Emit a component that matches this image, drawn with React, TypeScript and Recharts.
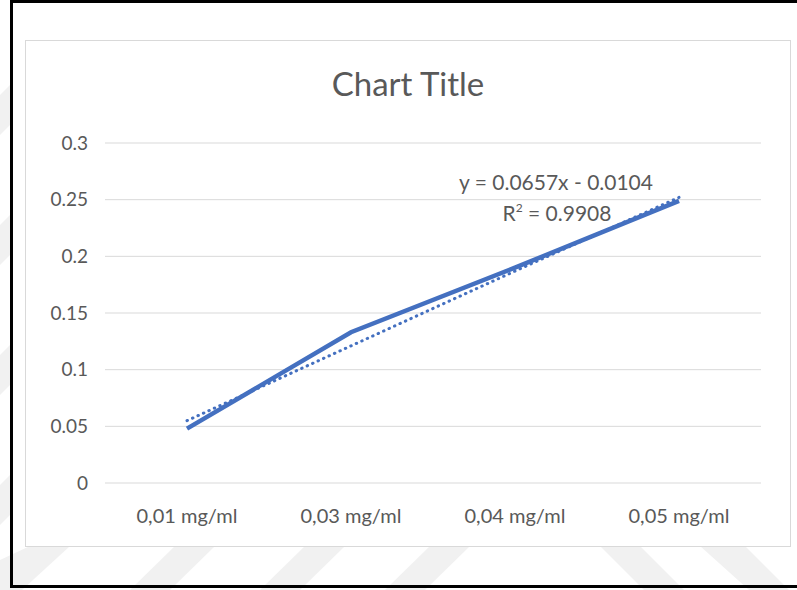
import { LineChart, Line, XAxis, YAxis, CartesianGrid } from 'recharts';

const categories = ['0,01 mg/ml', '0,03 mg/ml', '0,04 mg/ml', '0,05 mg/ml'];
const absorbance = [0.048, 0.133, 0.19, 0.249];
const trendValues = [0.055, 0.121, 0.187, 0.252];
const yTicks = [0, 0.05, 0.1, 0.15, 0.2, 0.25, 0.3];

const data = categories.map((name, i) => ({
  name,
  value: absorbance[i],
  trend: trendValues[i],
}));

const FONT = 'Lato, "Open Sans", sans-serif';
const TEXT = '#595959';
const BLUE = '#4470C0';

// faint diagonal watermark bands from the page behind the chart
const stripes = [
  '0,560 30,546 70,546 22,590 0,590',
  '130,590 175,546 215,546 170,590',
  '260,590 305,546 345,546 300,590',
  '385,590 430,546 470,546 425,590',
  '600,546 640,546 684,590 644,590',
  '700,546 745,546 789,590 749,590',
  '0,95 10,85 10,125 0,135',
  '0,225 10,215 10,255 0,265',
  '0,355 10,345 10,385 0,395',
  '0,485 10,475 10,515 0,525',
];

export default function App() {
  return (
    <div style={{ position: 'absolute', left: 0, top: 0, width: 797, height: 590, background: '#fff', overflow: 'hidden' }}>
      <svg width={797} height={590} style={{ position: 'absolute', left: 0, top: 0 }}>
        {stripes.map((p, i) => (
          <polygon key={i} points={p} fill="#f1f1f1" />
        ))}
      </svg>
      <div
        style={{
          position: 'absolute',
          left: 10,
          top: 0,
          width: 800,
          height: 588,
          borderLeft: '3px solid #000',
          borderTop: '3px solid #000',
          borderBottom: '3px solid #000',
          boxSizing: 'border-box',
        }}
      />
      <div
        style={{
          position: 'absolute',
          left: 25,
          top: 40,
          width: 766,
          height: 507,
          border: '1px solid #d9d9d9',
          boxSizing: 'border-box',
          background: '#fff',
        }}
      >
        <div
          style={{
            position: 'absolute',
            left: 0,
            width: '100%',
            top: 22,
            textAlign: 'center',
            fontFamily: FONT,
            fontSize: 33,
            color: TEXT,
            lineHeight: '40px',
          }}
        >
          Chart Title
        </div>
        <LineChart
          width={764}
          height={505}
          data={data}
          margin={{ top: 102, right: 29, bottom: 33, left: 0 }}
        >
          <CartesianGrid vertical={false} stroke="#d9d9d9" />
          <XAxis
            dataKey="name"
            axisLine={false}
            tickLine={false}
            tickSize={0}
            tickMargin={26}
            padding={{ left: 82, right: 82 }}
            tick={{ fill: TEXT, fontSize: 20, fontFamily: FONT }}
          />
          <YAxis
            width={79}
            domain={[0, 0.3]}
            ticks={yTicks}
            axisLine={false}
            tickLine={false}
            tickSize={0}
            tickMargin={17}
            tick={{ fill: TEXT, fontSize: 19, fontFamily: FONT }}
          />
          <Line
            type="linear"
            dataKey="trend"
            stroke={BLUE}
            strokeWidth={3}
            strokeDasharray="0.5 5.5"
            strokeLinecap="round"
            dot={false}
            isAnimationActive={false}
          />
          <Line
            type="linear"
            dataKey="value"
            stroke={BLUE}
            strokeWidth={4.5}
            dot={false}
            isAnimationActive={false}
          />
        </LineChart>
        <div
          style={{
            position: 'absolute',
            left: 330,
            width: 400,
            top: 129,
            textAlign: 'center',
            fontFamily: FONT,
            fontSize: 21,
            color: TEXT,
            lineHeight: '24px',
          }}
        >
          y = 0.0657x - 0.0104
        </div>
        <div
          style={{
            position: 'absolute',
            left: 331,
            width: 400,
            top: 160,
            textAlign: 'center',
            fontFamily: FONT,
            fontSize: 21,
            color: TEXT,
            lineHeight: '24px',
          }}
        >
          R<sup style={{ fontSize: 12, verticalAlign: 'top', lineHeight: '14px' }}>2</sup> = 0.9908
        </div>
      </div>
    </div>
  );
}
